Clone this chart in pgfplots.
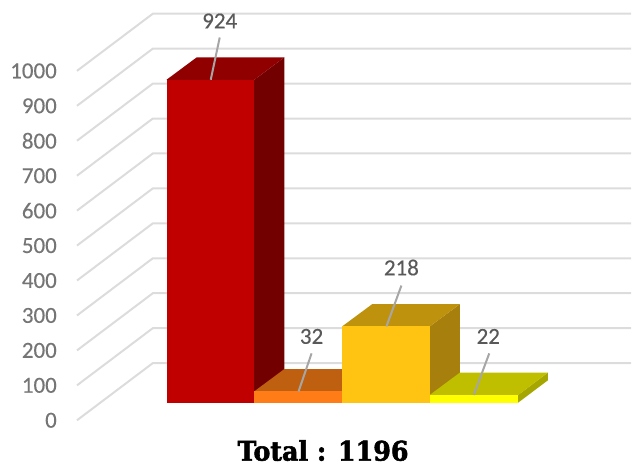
\documentclass[border=0pt]{standalone}
\usepackage{pgfplots}
\pgfplotsset{compat=1.18}
\usepackage{fontspec}
\setmainfont[FakeBold=0.3]{Carlito}
\newfontfamily\titlefont[FakeBold=2,FakeStretch=0.94]{DejaVu Serif Bold}
\definecolor{gridc}{HTML}{DCDCDC}
\definecolor{leader}{HTML}{A6A6A6}
\definecolor{ticktxt}{HTML}{757575}
\definecolor{lbltxt}{HTML}{595959}
\definecolor{redF}{HTML}{C00000}
\definecolor{redT}{HTML}{900000}
\definecolor{redS}{HTML}{730000}
\definecolor{orgF}{HTML}{FF7C17}
\definecolor{orgT}{HTML}{BF5F10}
\definecolor{orgS}{HTML}{A65210}
\definecolor{ambF}{HTML}{FFC312}
\definecolor{ambT}{HTML}{BF920E}
\definecolor{ambS}{HTML}{A67F0C}
\definecolor{yelF}{HTML}{FFFF00}
\definecolor{yelT}{HTML}{BFBF00}
\definecolor{yelS}{HTML}{A6A600}
\begin{document}
\begin{tikzpicture}
\begin{axis}[
  scale only axis,width=632pt,height=464pt,
  xmin=0,xmax=632,ymin=-173.4,ymax=1152.3,
  clip=false,
  axis line style={draw=none},
  major tick length=0pt,
  xtick=\empty,
  ytick={-50.6,49.4,149.4,249.4,349.4,449.4,549.4,649.4,749.4,849.4,949.4},
  yticklabels={0,100,200,300,400,500,600,700,800,900,1000},
  yticklabel style={anchor=east,xshift=57pt,text=ticktxt,font=\fontsize{23}{23}\selectfont,inner sep=0pt},
]
% floor and back wall lines: front end, back corner, right edge
\addplot[gridc,line width=2pt] coordinates {(77,-50.6)(153,113.1)(632,113.1)};
\addplot[gridc,line width=2pt] coordinates {(77,49.4)(153,213.1)(632,213.1)};
\addplot[gridc,line width=2pt] coordinates {(77,149.4)(153,313.1)(632,313.1)};
\addplot[gridc,line width=2pt] coordinates {(77,249.4)(153,413.1)(632,413.1)};
\addplot[gridc,line width=2pt] coordinates {(77,349.4)(153,513.1)(632,513.1)};
\addplot[gridc,line width=2pt] coordinates {(77,449.4)(153,613.1)(632,613.1)};
\addplot[gridc,line width=2pt] coordinates {(77,549.4)(153,713.1)(632,713.1)};
\addplot[gridc,line width=2pt] coordinates {(77,649.4)(153,813.1)(632,813.1)};
\addplot[gridc,line width=2pt] coordinates {(77,749.4)(153,913.1)(632,913.1)};
\addplot[gridc,line width=2pt] coordinates {(77,849.4)(153,1013.1)(632,1013.1)};
\addplot[gridc,line width=2pt] coordinates {(77,949.4)(153,1113.1)(632,1113.1)};
% bar 924
\addplot[fill=redS,draw=none] coordinates {(254.5,0)(284.7,64)(284.7,988)(254.5,924)} --cycle;
\addplot[fill=redT,draw=none] coordinates {(166.7,924)(254.5,924)(284.7,988)(196.9,988)} --cycle;
\addplot[fill=redF,draw=none] coordinates {(166.7,0)(254.5,0)(254.5,924)(166.7,924)} --cycle;
% bar 32
\addplot[fill=orgS,draw=none] coordinates {(342.6,0)(372.8,64)(372.8,96)(342.6,32)} --cycle;
\addplot[fill=orgT,draw=none] coordinates {(254.5,32)(342.6,32)(372.8,96)(284.7,96)} --cycle;
\addplot[fill=orgF,draw=none] coordinates {(254.5,0)(342.6,0)(342.6,32)(254.5,32)} --cycle;
% bar 218
\addplot[fill=ambS,draw=none] coordinates {(430.4,0)(460.6,64)(460.6,282)(430.4,218)} --cycle;
\addplot[fill=ambT,draw=none] coordinates {(342.6,218)(430.4,218)(460.6,282)(372.8,282)} --cycle;
\addplot[fill=ambF,draw=none] coordinates {(342.6,0)(430.4,0)(430.4,218)(342.6,218)} --cycle;
% bar 22
\addplot[fill=yelS,draw=none] coordinates {(519,0)(548.8,64)(548.8,86)(519,22)} --cycle;
\addplot[fill=yelT,draw=none] coordinates {(430.4,22)(519,22)(548.8,86)(460.6,86)} --cycle;
\addplot[fill=yelF,draw=none] coordinates {(430.4,0)(519,0)(519,22)(430.4,22)} --cycle;
% leader lines
\addplot[leader,line width=2pt] coordinates {(220,1045)(211,924)};
\addplot[leader,line width=2pt] coordinates {(312,140.9)(299,32)};
\addplot[leader,line width=2pt] coordinates {(402,335)(387,218)};
\addplot[leader,line width=2pt] coordinates {(490,140.9)(474.5,22)};
\node[text=lbltxt,font=\fontsize{23}{23}\selectfont,inner sep=0pt] at (axis cs:220,1092.3) {924};
\node[text=lbltxt,font=\fontsize{23}{23}\selectfont,inner sep=0pt] at (axis cs:312,189.4) {32};
\node[text=lbltxt,font=\fontsize{23}{23}\selectfont,inner sep=0pt] at (axis cs:402,386.6) {218};
\node[text=lbltxt,font=\fontsize{23}{23}\selectfont,inner sep=0pt] at (axis cs:489,189.4) {22};
\node[text=black,font=\titlefont\fontsize{27}{27}\selectfont,inner sep=0pt,text height=20pt,text depth=0pt,anchor=base] at (axis cs:323.5,-166) {Total : 1196};
\end{axis}
\end{tikzpicture}
\end{document}
